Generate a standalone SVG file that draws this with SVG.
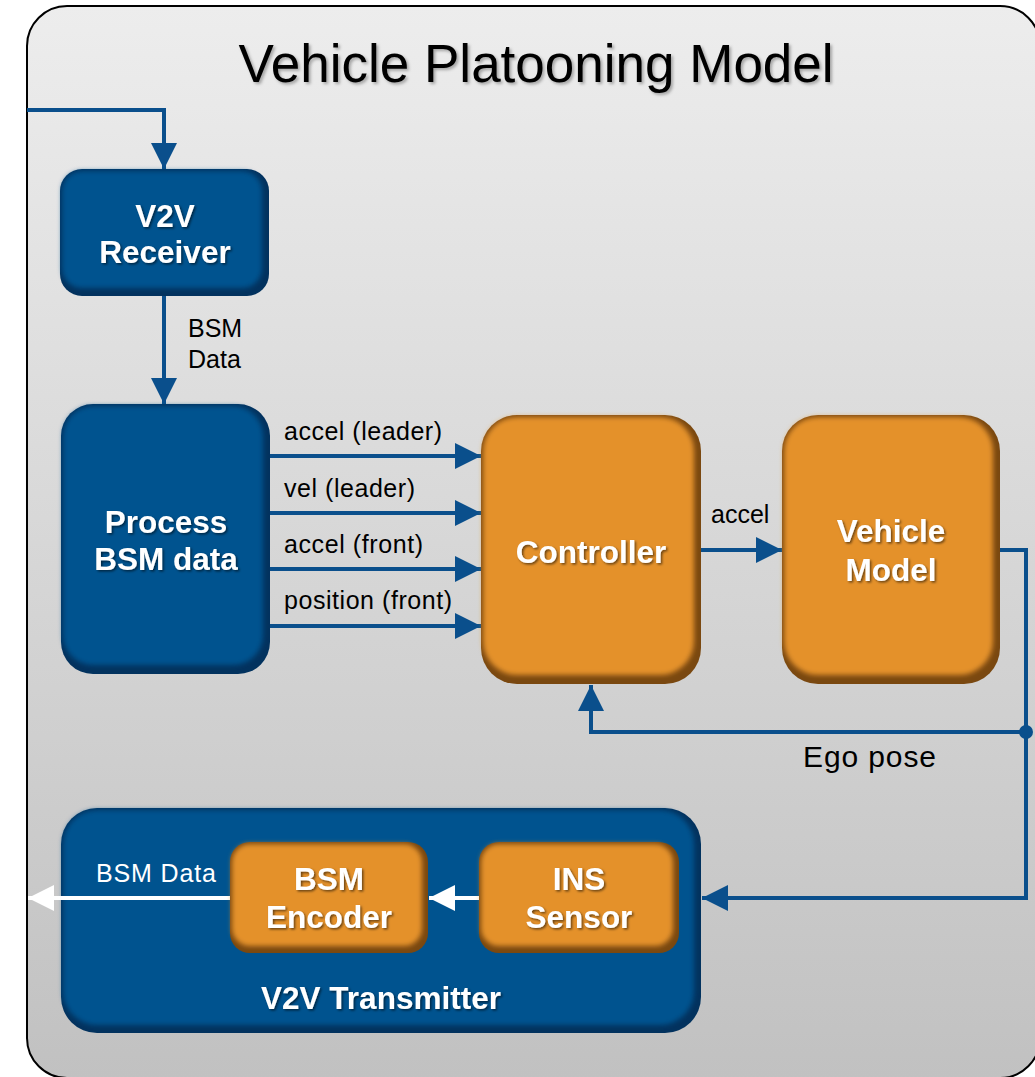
<svg xmlns="http://www.w3.org/2000/svg" width="1035" height="1077" viewBox="0 0 1035 1077">
  <defs>
    <linearGradient id="bg" x1="0" y1="0" x2="0" y2="1">
      <stop offset="0" stop-color="#ededed"/>
      <stop offset="1" stop-color="#c1c1c1"/>
    </linearGradient>
    <filter id="soft" x="-10%" y="-10%" width="120%" height="120%">
      <feGaussianBlur stdDeviation="2.5"/>
    </filter>
    <filter id="glow" x="-10%" y="-50%" width="120%" height="200%">
      <feGaussianBlur stdDeviation="2"/>
    </filter>
    <filter id="tshadow" x="-10%" y="-30%" width="120%" height="160%">
      <feDropShadow dx="1.5" dy="1.5" stdDeviation="1" flood-color="#000" flood-opacity="0.55"/>
    </filter>
    <filter id="titleshadow" x="-5%" y="-20%" width="110%" height="140%">
      <feDropShadow dx="2" dy="2" stdDeviation="1.5" flood-color="#000" flood-opacity="0.3"/>
    </filter>
    <marker id="ah" viewBox="0 0 26 26" refX="26" refY="13" markerWidth="26" markerHeight="26" markerUnits="userSpaceOnUse" orient="auto">
      <path d="M0,0 L26,13 L0,26 Z" fill="#0a4f8c"/>
    </marker>
    <marker id="ahw" viewBox="0 0 26 26" refX="26" refY="13" markerWidth="26" markerHeight="26" markerUnits="userSpaceOnUse" orient="auto">
      <path d="M0,0 L26,13 L0,26 Z" fill="#ffffff"/>
    </marker>
    <style>
      .edge-b { fill: #02325e; }
      .face-b { fill: #05528f; filter: url(#soft); }
      .hl-b { fill: none; stroke: #5596d8; stroke-width: 3.5; opacity: 0.8; filter: url(#glow); }
      .edge-o { fill: #7a4810; }
      .face-o { fill: #e4912c; filter: url(#soft); }
      .hl-o { fill: none; stroke: #f7c06a; stroke-width: 3.5; opacity: 0.85; filter: url(#glow); }
      .lbl { font-family: "Liberation Sans", Arial, sans-serif; font-weight: bold; font-size: 31.5px; fill: #ffffff; text-anchor: middle; filter: url(#tshadow); }
      .sig { font-family: "Liberation Sans", Arial, sans-serif; font-size: 25px; fill: #000000; }
      .ego { font-family: "Liberation Sans", Arial, sans-serif; font-size: 30px; fill: #000000; }
      .sig-w { font-family: "Liberation Sans", Arial, sans-serif; font-size: 25px; fill: #ffffff; }
      .wire { fill: none; stroke: #0a4f8c; stroke-width: 4; marker-end: url(#ah); }
      .wire-w { fill: none; stroke: #ffffff; stroke-width: 4; marker-end: url(#ahw); }
    </style>
  </defs>

  <!-- outer frame -->
  <g id="frame">
    <rect x="27" y="6" width="1013" height="1072" rx="40" ry="40" fill="url(#bg)" stroke="#000" stroke-width="2"/>
    <text x="536" y="82" font-family="'Liberation Sans', Arial, sans-serif" font-size="53" text-anchor="middle" fill="#000" filter="url(#titleshadow)">Vehicle Platooning Model</text>
  </g>

  <!-- V2V Transmitter container (drawn before its inner blocks) -->
  <g id="v2v-transmitter">
    <rect class="edge-b" x="61" y="808" width="640" height="225" rx="36"/>
    <rect class="face-b" x="63" y="810" width="631" height="215" rx="34"/>
    <path class="hl-b" d="M100,816 H660"/>
    <text class="lbl" x="381" y="1009">V2V Transmitter</text>
  </g>

  <!-- connectors -->
  <g id="connectors">
    <path class="wire" d="M27,110 H164 V169"/>
    <path class="wire" d="M164,296 V404"/>
    <path class="wire" d="M270,456 H481"/>
    <path class="wire" d="M270,513 H481"/>
    <path class="wire" d="M270,569 H481"/>
    <path class="wire" d="M270,626 H481"/>
    <path class="wire" d="M701,550 H782"/>
    <path class="wire" d="M1000,550 H1026 V898 H702"/>
    <path class="wire" d="M1026,732 H591 V685"/>
    <circle cx="1026" cy="732" r="7" fill="#0a4f8c"/>
    <path class="wire-w" d="M230,898 H28"/>
    <path class="wire-w" d="M479,898 H429"/>
    <text class="sig" x="188" y="337">BSM</text>
    <text class="sig" x="188" y="368">Data</text>
    <text class="sig" x="284" y="440" textLength="158">accel (leader)</text>
    <text class="sig" x="284" y="497" textLength="131">vel (leader)</text>
    <text class="sig" x="284" y="553" textLength="139">accel (front)</text>
    <text class="sig" x="284" y="609" textLength="168">position (front)</text>
    <text class="sig" x="711" y="523">accel</text>
    <text class="ego" x="803" y="767" textLength="133">Ego pose</text>
    <text class="sig-w" x="96" y="882" textLength="120">BSM Data</text>
  </g>

  <g id="v2v-receiver">
    <rect class="edge-b" x="60" y="169" width="209" height="127" rx="22"/>
    <rect class="face-b" x="62" y="171" width="200" height="117" rx="20"/>
    <path class="hl-b" d="M82,176 H248"/>
    <text class="lbl" x="165" y="227">V2V</text>
    <text class="lbl" x="165" y="263">Receiver</text>
  </g>

  <g id="process-bsm">
    <rect class="edge-b" x="61" y="404" width="209" height="270" rx="32"/>
    <rect class="face-b" x="63" y="406" width="200" height="259" rx="30"/>
    <path class="hl-b" d="M94,412 H240"/>
    <text class="lbl" x="166" y="533">Process</text>
    <text class="lbl" x="166" y="570">BSM data</text>
  </g>

  <g id="controller">
    <rect class="edge-o" x="481" y="415" width="220" height="269" rx="36"/>
    <rect class="face-o" x="483" y="417" width="211" height="258" rx="34"/>
    <path class="hl-o" d="M517,423 H666"/>
    <text class="lbl" x="591" y="563">Controller</text>
  </g>

  <g id="vehicle-model">
    <rect class="edge-o" x="782" y="415" width="218" height="269" rx="36"/>
    <rect class="face-o" x="784" y="417" width="209" height="258" rx="34"/>
    <path class="hl-o" d="M818,423 H965"/>
    <text class="lbl" x="891" y="542">Vehicle</text>
    <text class="lbl" x="891" y="581">Model</text>
  </g>

  <g id="bsm-encoder">
    <rect class="edge-o" x="230" y="842" width="198" height="111" rx="20"/>
    <rect class="face-o" x="232" y="844" width="190" height="102" rx="18"/>
    <path class="hl-o" d="M250,849 H408"/>
    <text class="lbl" x="329" y="890">BSM</text>
    <text class="lbl" x="329" y="928">Encoder</text>
  </g>

  <g id="ins-sensor">
    <rect class="edge-o" x="479" y="842" width="200" height="111" rx="20"/>
    <rect class="face-o" x="481" y="844" width="192" height="102" rx="18"/>
    <path class="hl-o" d="M499,849 H659"/>
    <text class="lbl" x="579" y="890">INS</text>
    <text class="lbl" x="579" y="928">Sensor</text>
  </g>
</svg>
